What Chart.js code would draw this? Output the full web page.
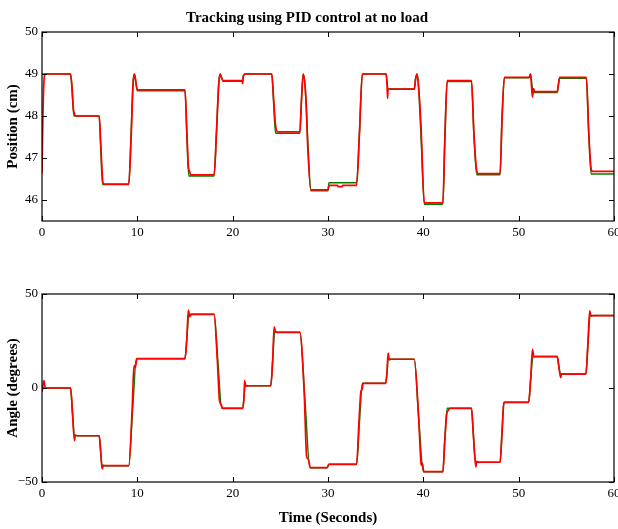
<!DOCTYPE html>
<html>
<head>
<meta charset="utf-8">
<script src="https://cdn.jsdelivr.net/npm/chart.js@4"></script>
<style>
    html, body { margin: 0; padding: 0; background: #fff; overflow: hidden; }
    .box { position: absolute; left: 0; width: 640px; }
    #topBox { top: 0; height: 250px; }
    #bottomBox { top: 250px; height: 279px; }
</style>
</head>
<body>
<div class="box" id="topBox"><canvas id="positionChart"></canvas></div>
<div class="box" id="bottomBox"><canvas id="angleChart"></canvas></div>
<script>
// tick labels
const timeTicks = [0, 10, 20, 30, 40, 50, 60];
const positionTicks = [46, 47, 48, 49, 50];
const angleTicks = [-50, 0, 50];

// position: setpoint (green), one line per step
const posRefT = [
    0, 3.0,
    3.15, 3.35, 6.0,
    6.15, 6.35, 9.1,
    9.35, 9.55, 9.7, 9.85, 10.0, 15.0,
    15.2, 15.4, 18.05,
    18.3, 18.55, 18.7, 18.85, 19.0, 21.05,
    21.1, 21.3, 24.1,
    24.3, 24.5, 27.05,
    27.2, 27.4, 27.6, 27.9, 28.2, 30.0,
    30.1, 33.0,
    33.3, 33.6, 36.1,
    36.2, 36.3, 39.05,
    39.2, 39.35, 39.5, 39.8, 40.1, 42.05,
    42.25, 42.5, 45.05,
    45.3, 45.6, 48.05,
    48.25, 48.5, 51.1,
    51.25, 51.5, 54.05,
    54.2, 54.3, 57.1,
    57.35, 57.6, 60
];
const posRefY = [
    49.0, 49.0,
    48.6, 48.0, 48.0,
    47.3, 46.37, 46.37,
    47.6, 48.8, 49.0, 48.8, 48.6, 48.6,
    47.5, 46.57, 46.57,
    47.6, 48.8, 49.0, 48.9, 48.83, 48.83,
    48.95, 49.0, 49.0,
    48.3, 47.59, 47.59,
    48.3, 49.0, 48.7, 47.3, 46.22, 46.22,
    46.41, 46.41,
    47.6, 49.0, 49.0,
    48.8, 48.64, 48.64,
    48.9, 49.0, 48.7, 47.3, 45.9, 45.9,
    47.4, 48.82, 48.82,
    47.6, 46.6, 46.6,
    47.9, 48.91, 48.91,
    49.0, 48.56, 48.56,
    48.8, 48.9, 48.9,
    47.6, 46.62, 46.62
];

// position: measured (red)
const posActT = [
    0, 0.08, 0.2, 0.35, 3.0,
    3.15, 3.3, 3.35, 3.5, 6.0,
    6.15, 6.35, 6.45, 9.1,
    9.35, 9.55, 9.7, 9.85, 10.0, 15.0,
    15.2, 15.35, 15.45, 15.6, 18.05,
    18.3, 18.55, 18.7, 18.85, 19.0, 21.0,
    21.05, 21.1, 21.3, 24.1,
    24.3, 24.45, 24.55, 24.75, 27.05,
    27.2, 27.4, 27.6, 27.75, 27.85, 28.2, 30.0,
    30.1, 31.0, 31.05, 31.5, 31.55, 33.0,
    33.3, 33.6, 36.1,
    36.2, 36.25, 36.3, 36.4, 39.05,
    39.2, 39.35, 39.5, 39.75, 39.8, 40.1, 42.05,
    42.25, 42.5, 45.05,
    45.3, 45.6, 45.75, 48.05,
    48.25, 48.5, 51.1,
    51.25, 51.35, 51.45, 51.55, 51.7, 54.05,
    54.2, 54.3, 57.1,
    57.35, 57.6, 57.75, 60
];
const posActY = [
    46.64, 47.8, 48.8, 49.0, 49.0,
    48.7, 48.15, 48.1, 48.0, 48.0,
    47.4, 46.5, 46.38, 46.38,
    47.5, 48.75, 49.0, 48.8, 48.62, 48.62,
    47.6, 46.8, 46.7, 46.6, 46.6,
    47.6, 48.8, 49.0, 48.9, 48.84, 48.84,
    48.77, 48.92, 49.0, 49.0,
    48.4, 47.9, 47.7, 47.62, 47.62,
    48.3, 49.0, 48.7, 48.1, 47.4, 46.24, 46.24,
    46.35, 46.35, 46.32, 46.32, 46.35, 46.35,
    47.6, 49.0, 49.0,
    48.7, 48.42, 48.62, 48.64, 48.64,
    48.9, 49.0, 48.7, 47.8, 47.5, 45.93, 45.93,
    47.4, 48.84, 48.84,
    47.6, 46.7, 46.63, 46.63,
    47.9, 48.92, 48.92,
    49.0, 48.7, 48.45, 48.65, 48.58, 48.58,
    48.8, 48.92, 48.92,
    47.6, 46.75, 46.68, 46.68
];

// angle: setpoint (green)
const angRefT = [
    0, 3.0,
    3.2, 3.4, 6.0,
    6.15, 6.3, 9.1,
    9.5, 9.9, 15.0,
    15.2, 15.4, 18.05,
    18.45, 18.85, 21.05,
    21.2, 21.3, 24.0,
    24.2, 24.4, 27.05,
    27.6, 28.1, 29.9,
    30.1, 33.0,
    33.3, 33.6, 36.05,
    36.2, 36.3, 39.05,
    39.5, 40.0, 42.05,
    42.25, 42.5, 45.05,
    45.25, 45.5, 48.05,
    48.25, 48.45, 51.05,
    51.25, 51.5, 54.05,
    54.2, 54.4, 57.05,
    57.25, 57.5, 60
];
const angRefY = [
    0, 0,
    -14, -25.4, -25.4,
    -34, -41.3, -41.3,
    -12, 15.6, 15.6,
    27, 39.2, 39.2,
    14, -10.8, -10.8,
    -4, 1.2, 1.2,
    15, 29.6, 29.6,
    -8, -42.4, -42.4,
    -40.6, -40.6,
    -18, 2.5, 2.5,
    9, 15.3, 15.3,
    -15, -44.5, -44.5,
    -28, -10.8, -10.8,
    -25, -39.5, -39.5,
    -24, -7.6, -7.6,
    4, 16.7, 16.7,
    12, 7.4, 7.4,
    22, 38.5, 38.5
];

// angle: measured (red)
const angActT = [
    0, 0.1, 0.2, 0.35, 3.0,
    3.2, 3.4, 3.5, 3.7, 6.0,
    6.15, 6.3, 6.45, 6.6, 9.1,
    9.45, 9.6, 9.7, 9.8, 9.95, 15.0,
    15.2, 15.35, 15.5, 15.7, 18.05,
    18.4, 18.6, 18.7, 18.8, 18.95, 21.05,
    21.2, 21.25, 21.4, 21.6, 24.0,
    24.2, 24.35, 24.5, 24.7, 27.05,
    27.5, 27.75, 27.85, 27.95, 28.15, 29.9,
    30.1, 33.0,
    33.25, 33.45, 33.55, 33.7, 36.05,
    36.2, 36.3, 36.45, 36.6, 39.05,
    39.5, 39.75, 39.8, 39.9, 40.05, 42.05,
    42.25, 42.45, 42.6, 42.8, 45.05,
    45.25, 45.5, 45.6, 45.8, 48.05,
    48.25, 48.45, 48.6, 51.05,
    51.25, 51.45, 51.6, 51.8, 54.05,
    54.2, 54.4, 54.5, 54.7, 57.05,
    57.25, 57.45, 57.6, 57.8, 60
];
const angActY = [
    -2, 1, 4, 0, 0,
    -13, -28, -25, -25.4, -25.4,
    -33, -43, -41, -41.3, -41.3,
    -12, 8, 12, 11, 15.6, 15.6,
    27, 41.5, 38, 39.2, 39.2,
    14, -6, -8, -9, -10.8, -10.8,
    -4, 4, 1, 1.2, 1.2,
    15, 32.5, 30, 29.6, 29.6,
    -2, -36, -37.5, -38, -42.4, -42.4,
    -40.6, -40.6,
    -18, -2, -1, 2.5, 2.5,
    9, 18.5, 15, 15.3, 15.3,
    -15, -40, -41, -40, -44.5, -44.5,
    -28, -14, -12, -10.8, -10.8,
    -25, -42, -39, -39.5, -39.5,
    -24, -8, -7.6, -7.6,
    4, 20.5, 16.5, 16.7, 16.7,
    12, 5.5, 7.5, 7.4, 7.4,
    22, 41, 38.2, 38.5, 38.5
];

const FONT = "'Liberation Serif', 'DejaVu Serif', serif";
Chart.defaults.font.family = FONT;
Chart.defaults.color = '#000';

const toPoints = (xs, ys) => xs.map((x, i) => ({ x: x, y: ys[i] }));

// matplotlib style frame with inward ticks on all four sides
const frameTicks = {
    id: 'frameTicks',
    afterDraw(chart) {
        const { ctx, chartArea: a, scales } = chart;
        ctx.save();
        ctx.strokeStyle = '#000';
        ctx.lineWidth = 1.2;
        ctx.strokeRect(a.left, a.top, a.right - a.left, a.bottom - a.top);
        ctx.lineWidth = 1;
        ctx.beginPath();
        scales.x.ticks.forEach(t => {
            const px = Math.round(scales.x.getPixelForValue(t.value)) + 0.5;
            ctx.moveTo(px, a.bottom); ctx.lineTo(px, a.bottom - 5);
            ctx.moveTo(px, a.top); ctx.lineTo(px, a.top + 5);
        });
        scales.y.ticks.forEach(t => {
            const py = Math.round(scales.y.getPixelForValue(t.value)) + 0.5;
            ctx.moveTo(a.left, py); ctx.lineTo(a.left + 5, py);
            ctx.moveTo(a.right, py); ctx.lineTo(a.right - 5, py);
        });
        ctx.stroke();
        ctx.restore();
    }
};

function noPad(scale) {
    scale.paddingLeft = 0;
    scale.paddingRight = 0;
    scale.paddingTop = 0;
    scale.paddingBottom = 0;
}

function makeChart(canvasId, opts) {
    const ctx = document.getElementById(canvasId).getContext('2d');
    return new Chart(ctx, {
        type: 'line',
        data: {
            datasets: [{
                label: 'measured',
                data: toPoints(opts.actT, opts.actY),
                borderColor: '#ff0000',
                borderWidth: 1.7
            }, {
                label: 'setpoint',
                data: toPoints(opts.refT, opts.refY),
                borderColor: '#008000',
                borderWidth: 1.5
            }]
        },
        options: {
            responsive: true,
            maintainAspectRatio: false,
            animation: false,
            elements: {
                point: { radius: 0 },
                line: { cubicInterpolationMode: 'monotone' }
            },
            layout: { padding: opts.padding },
            plugins: {
                legend: { display: false },
                tooltip: { enabled: false },
                title: opts.title ? {
                    display: true,
                    text: opts.title,
                    font: { size: 15, weight: 'bold', family: FONT },
                    color: '#000',
                    padding: { top: 9, bottom: 5 }
                } : { display: false }
            },
            scales: {
                x: {
                    type: 'linear',
                    min: 0,
                    max: 60,
                    grid: { display: false, drawTicks: false },
                    border: { display: false },
                    ticks: { font: { size: 13 }, padding: 4, maxRotation: 0 },
                    afterBuildTicks: s => { s.ticks = timeTicks.map(v => ({ value: v })); },
                    afterFit: s => { noPad(s); s.height = opts.xHeight; },
                    title: opts.xTitle ? {
                        display: true,
                        text: opts.xTitle,
                        font: { size: 15, weight: 'bold' },
                        padding: { top: 0, bottom: 2 }
                    } : { display: false }
                },
                y: {
                    min: opts.yMin,
                    max: opts.yMax,
                    grid: { display: false, drawTicks: false },
                    border: { display: false },
                    ticks: {
                        font: { size: 13 },
                        padding: 4,
                        callback: v => v < 0 ? '\u2212' + Math.abs(v) : String(v)
                    },
                    afterBuildTicks: s => { s.ticks = opts.yTicks.map(v => ({ value: v })); },
                    afterFit: s => { noPad(s); s.width = 42; },
                    title: {
                        display: true,
                        text: opts.yTitle,
                        font: { size: 15, weight: 'bold' },
                        padding: { top: 4, bottom: 0 }
                    }
                }
            }
        },
        plugins: [frameTicks]
    });
}

makeChart('positionChart', {
    refT: posRefT, refY: posRefY, actT: posActT, actY: posActY,
    yMin: 45.5, yMax: 50, yTicks: positionTicks,
    yTitle: 'Position (cm)',
    title: 'Tracking using PID control at no load',
    padding: { top: 0, left: 0, right: 26, bottom: 0 },
    xHeight: 29
});

makeChart('angleChart', {
    refT: angRefT, refY: angRefY, actT: angActT, actY: angActY,
    yMin: -50, yMax: 50, yTicks: angleTicks,
    yTitle: 'Angle (degrees)',
    xTitle: 'Time (Seconds)',
    padding: { top: 44, left: 0, right: 26, bottom: 0 },
    xHeight: 47
});
</script>
</body>
</html>
